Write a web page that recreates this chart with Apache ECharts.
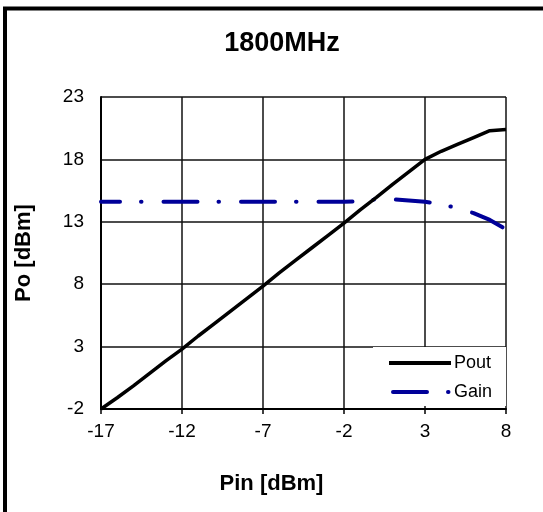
<!DOCTYPE html>
<html>
<head>
<meta charset="utf-8">
<script src="https://cdn.jsdelivr.net/npm/echarts@6/dist/echarts.min.js"></script>
<style>
html,body{margin:0;padding:0;background:#fff;}
#chart{width:543px;height:512px;}
</style>
</head>
<body>
<div id="chart"></div>
<script>
// ---- data ----
const pinValues = [-17,-16,-15,-14,-13,-12,-11,-10,-9,-8,-7,-6,-5,-4,-3,-2,-1,0,1,2,3,4,5,6,7,8];
const poutValues = [-2.0,-1.1,-0.15,0.85,1.85,2.8,3.85,4.85,5.85,6.85,7.85,8.9,9.9,10.9,11.9,12.9,13.95,14.95,16.0,17.0,18.0,18.65,19.2,19.75,20.3,20.4];
const gainValues = [14.6,14.6,14.6,14.6,14.6,14.6,14.6,14.6,14.6,14.6,14.6,14.6,14.6,14.6,14.6,14.6,14.65,14.8,14.8,14.7,14.6,14.4,14.1,13.7,13.15,12.4];
const xTicks = [-17,-12,-7,-2,3,8];
const yTicks = [-2,3,8,13,18,23];
const seriesNames = ['Pout','Gain'];
const titleText = '1800MHz';
const xName = 'Pin [dBm]';
const yName = 'Po [dBm]';

const FONT = "'Liberation Sans', Arial, sans-serif";
const chart = echarts.init(document.getElementById('chart'), null, {renderer:'canvas'});
const pts = (ys) => pinValues.map((x,i)=>[x, ys[i]]);

chart.setOption({
  animation:false,
  backgroundColor:'#fff',
  graphic:[{type:'rect', shape:{x:5, y:8.5, width:600, height:600}, style:{fill:'none', stroke:'#000', lineWidth:4}, z:100}],
  title:{text:titleText, left:277, textAlign:'center', top:25,
    textStyle:{fontFamily:FONT, fontWeight:'bold', fontSize:27, color:'#000'}},
  grid:{left:101, top:97, right:37, bottom:103, containLabel:false},
  legend:{orient:'vertical', left:373, top:347, padding:[7,14,5,14],
    backgroundColor:'#fff', itemWidth:62, itemHeight:14, itemGap:11,
    data:seriesNames, textStyle:{fontFamily:FONT, fontSize:18, lineHeight:18, color:'#000', padding:[0,0,0,-2]},
    itemStyle:{opacity:0, borderWidth:0},
    lineStyle:{dashOffset:-4, width:4}, z:5},
  xAxis:{type:'value', min:xTicks[0], max:xTicks[xTicks.length-1], interval:5,
    name:xName, nameLocation:'middle', nameGap:64,
    nameTextStyle:{fontFamily:FONT, fontWeight:'bold', fontSize:22, color:'#000', padding:[0,64,0,0]},
    axisLine:{onZero:false, lineStyle:{color:'#000', width:2}},
    axisTick:{show:true, length:5, lineStyle:{color:'#000', width:1.5}},
    axisLabel:{fontFamily:FONT, fontSize:19, color:'#000', margin:13},
    splitLine:{show:true, lineStyle:{color:'#111', width:1.5}}},
  yAxis:{type:'value', min:yTicks[0], max:yTicks[yTicks.length-1], interval:5,
    name:yName, nameLocation:'middle', nameGap:66,
    nameTextStyle:{fontFamily:FONT, fontWeight:'bold', fontSize:22, color:'#000'},
    axisLine:{show:true, onZero:false, lineStyle:{color:'#000', width:2}},
    axisTick:{show:false},
    axisLabel:{fontFamily:FONT, fontSize:19, color:'#000', margin:17},
    splitLine:{show:true, lineStyle:{color:'#111', width:1.5}}},
  series:[
    {name:seriesNames[0], type:'line', data:pts(poutValues), symbol:'none', showSymbol:false,
      lineStyle:{color:'#000', width:3.5}, itemStyle:{color:'#000'}, z:3},
    {name:seriesNames[1], type:'line', data:pts(gainValues), symbol:'none', showSymbol:false,
      lineStyle:{color:'#000099', width:4, type:[34,21,0.5,22], dashOffset:15, cap:'round'},
      itemStyle:{color:'#000099'}, z:2}
  ]
});
</script>
</body>
</html>
